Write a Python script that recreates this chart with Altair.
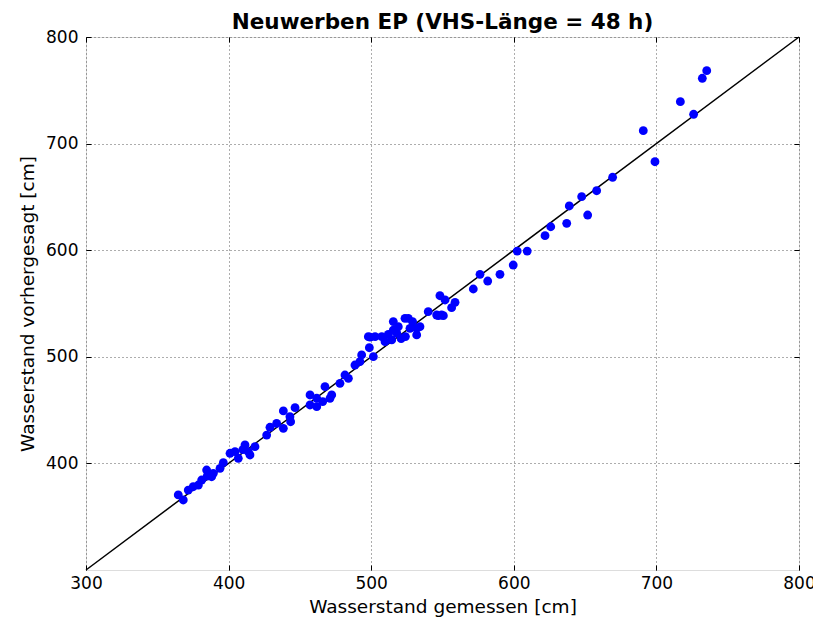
import altair as alt
import pandas as pd

measured = [364.7, 368.2, 371.7, 375.2, 378.8, 381.1, 384.6, 388.1, 389.3, 394.0,
            396.3, 401.0, 404.5, 406.8, 411.5, 413.8, 415.0, 418.5, 426.7, 429.0,
            433.7, 438.4, 438.4, 443.0, 443.5, 446.6, 457.1, 457.1, 461.8, 461.8,
            467.6, 471.1, 472.3, 478.1, 481.6, 484.0, 488.6, 492.1, 493.3, 498.7,
            501.5, 499.2, 498.0, 502.7, 507.4, 509.7, 514.4, 515.5, 515.5, 519.0,
            523.7, 526.0, 527.2, 531.9, 531.9, 534.2, 540.0, 545.9, 549.4, 547.1,
            550.6, 548.2, 551.8, 556.4, 558.8, 571.6, 576.3, 581.7, 590.3, 599.6,
            602.4, 609.4, 621.9, 625.9, 637.1, 638.9, 647.6, 651.8, 658.1, 669.3,
            690.8, 699.0, 716.8, 726.1, 732.2, 735.3,
            518.0, 521.0, 524.0, 512.0, 529.0, 410.0, 385.0, 466.0]
predicted = [370.4, 365.7, 375.0, 378.1, 379.7, 384.4, 393.8, 387.5, 390.7, 395.4,
             400.7, 409.5, 411.0, 404.8, 417.3, 411.0, 407.9, 415.7, 426.6, 433.9,
             437.6, 432.9, 449.2, 443.8, 439.1, 452.3, 464.2, 454.8, 453.2, 461.1,
             472.0, 461.1, 464.2, 475.1, 482.9, 479.8, 492.3, 495.4, 501.7, 508.5,
             500.1, 518.5, 518.9, 518.9, 518.9, 514.2, 515.8, 525.1, 533.0, 528.2,
             536.1, 536.1, 526.7, 526.7, 520.5, 528.2, 542.3, 539.2, 539.2, 538.6,
             538.6, 557.3, 553.3, 546.1, 551.1, 563.6, 577.4, 571.1, 577.4, 586.1,
             599.2, 599.2, 613.6, 622.0, 625.2, 641.5, 650.2, 633.0, 655.8, 668.4,
             712.1, 683.0, 739.3, 727.5, 761.3, 768.4,
             522.0, 517.0, 519.0, 521.0, 533.0, 413.0, 388.0, 458.0]

line_x = [300, 800]
line_y = [300, 800]

x_ticks = [300, 400, 500, 600, 700, 800]
y_ticks = [400, 500, 600, 700, 800]

pts = pd.DataFrame({"gemessen": measured, "vorhergesagt": predicted})
diag = pd.DataFrame({"gemessen": line_x, "vorhergesagt": line_y})

FONT = "DejaVu Sans"

xscale = alt.Scale(domain=[300, 800], nice=False, zero=False)
yscale = alt.Scale(domain=[300, 800], nice=False, zero=False)

xaxis = alt.Axis(values=x_ticks, title="Wasserstand gemessen [cm]", grid=True,
                 gridDash=[1, 3], gridColor="#333333", gridOpacity=0.8,
                 ticks=False, labelFontSize=17, titleFontSize=18.5,
                 titleFontWeight="normal", labelFont=FONT, titleFont=FONT,
                 labelColor="black", titleColor="black", labelPadding=5, titlePadding=6,
                 labelFlush=False, domain=False)
yaxis = alt.Axis(values=y_ticks, title="Wasserstand vorhergesagt [cm]", grid=True,
                 gridDash=[1, 3], gridColor="#333333", gridOpacity=0.8,
                 ticks=False, labelFontSize=17, titleFontSize=18.5,
                 titleFontWeight="normal", labelFont=FONT, titleFont=FONT,
                 labelColor="black", titleColor="black", labelPadding=8, titlePadding=8,
                 labelFlush=False, domain=False)


def tick_axis(values, orient):
    return alt.Axis(values=values, orient=orient, offset=-5, tickSize=5, tickWidth=1,
                    tickColor="black", labels=False, title=None, grid=False, domain=False)


line = alt.Chart(diag).mark_line(color="black", strokeWidth=1.5).encode(
    x=alt.X("gemessen:Q", scale=xscale, axis=xaxis),
    y=alt.Y("vorhergesagt:Q", scale=yscale, axis=yaxis),
)

ticks_bl = alt.Chart(diag).mark_line(opacity=0).encode(
    x=alt.X("gemessen:Q", scale=xscale, axis=tick_axis(x_ticks, "bottom")),
    y=alt.Y("vorhergesagt:Q", scale=yscale, axis=tick_axis(y_ticks, "left")),
)

ticks_tr = alt.Chart(diag).mark_line(opacity=0).encode(
    x=alt.X("gemessen:Q", scale=xscale, axis=tick_axis(x_ticks, "top")),
    y=alt.Y("vorhergesagt:Q", scale=yscale, axis=tick_axis(y_ticks, "right")),
)

points = alt.Chart(pts).mark_circle(color="#0000ff", opacity=1, size=78).encode(
    x=alt.X("gemessen:Q", scale=xscale, axis=None),
    y=alt.Y("vorhergesagt:Q", scale=yscale, axis=None),
)

chart = alt.layer(line, ticks_bl, ticks_tr, points).resolve_axis(
    x="independent", y="independent"
).properties(
    width=713, height=533,
    title=alt.TitleParams("Neuwerben EP (VHS-Länge = 48 h)", font=FONT, fontSize=21.5,
                          fontWeight="bold", color="black", offset=-5),
    padding={"left": 78, "top": 29, "right": 14, "bottom": 50},
    autosize="none",
).configure_view(stroke="black", strokeWidth=1.5).configure(background="white")

chart.save("out.html", embed_options={"renderer": "svg", "actions": False})
